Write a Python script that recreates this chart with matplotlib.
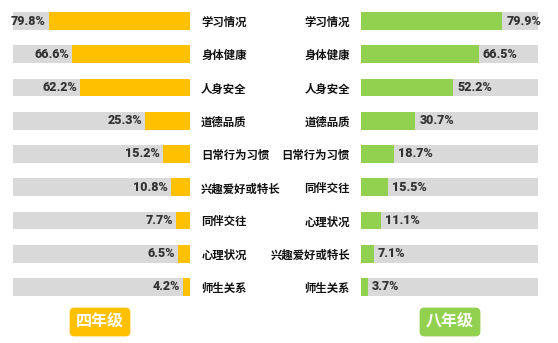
import matplotlib
matplotlib.use("Agg")
import matplotlib.pyplot as plt
from matplotlib.transforms import offset_copy

plt.rcParams['font.family'] = ['Noto Sans CJK SC', 'DejaVu Sans']

cats4 = ["学习情况", "身体健康", "人身安全", "道德品质", "日常行为习惯", "兴趣爱好或特长", "同伴交往", "心理状况", "师生关系"]
vals4 = [79.8, 66.6, 62.2, 25.3, 15.2, 10.8, 7.7, 6.5, 4.2]
cats8 = ["学习情况", "身体健康", "人身安全", "道德品质", "日常行为习惯", "同伴交往", "心理状况", "兴趣爱好或特长", "师生关系"]
vals8 = [79.9, 66.5, 52.2, 30.7, 18.7, 15.5, 11.1, 7.1, 3.7]
titles = ["四年级", "八年级"]

ORANGE = "#FFC000"
GREEN = "#92D050"
GRAY = "#D9D9D9"
TXT = "#111111"

W, H = 558, 343
fig = plt.figure(figsize=(W / 100, H / 100), dpi=100)
fig.patch.set_facecolor("white")

top_px, bot_px = 4.4, 303.6
def axrect(x0, x1):
    return [x0 / W, 1 - bot_px / H, (x1 - x0) / W, (bot_px - top_px) / H]

axL = fig.add_axes(axrect(13, 190))
axR = fig.add_axes(axrect(361, 538))

pctfont = dict(family=['Roboto', 'DejaVu Sans'], fontweight='black',
               fontsize=9, color="#333333")

for ax, cats, vals, col, side in [(axL, cats4, vals4, ORANGE, 'L'), (axR, cats8, vals8, GREEN, 'R')]:
    y = list(range(len(cats)))
    ax.barh(y, [100] * len(cats), height=0.54, color=GRAY, zorder=1)
    ax.barh(y, vals, height=0.54, color=col, zorder=2)
    ax.set_ylim(len(cats) - 0.5, -0.5)
    ax.set_yticks(y)
    ax.set_yticklabels(cats, fontsize=8.2, fontweight='black', color=TXT)
    ax.tick_params(axis='y', length=0)
    ax.set_xticks([])
    for s in ax.spines.values():
        s.set_visible(False)
    ax.set_facecolor("none")
    if side == 'L':
        ax.set_xlim(100, 0)
        ax.yaxis.tick_right()
        ax.tick_params(axis='y', pad=8)
        for yi, v in zip(y, vals):
            ax.text(v, yi, f"{v}%", ha='right', va='center', zorder=3,
                    transform=offset_copy(ax.transData, fig=fig, x=-3, y=0, units='dots'), **pctfont)
    else:
        ax.set_xlim(0, 100)
        ax.tick_params(axis='y', pad=8)
        for yi, v in zip(y, vals):
            ax.text(v, yi, f"{v}%", ha='left', va='center', zorder=3,
                    transform=offset_copy(ax.transData, fig=fig, x=4, y=0, units='dots'), **pctfont)

fig.text(100 / W, 1 - 322 / H, titles[0], ha='center', va='center', color='white',
         fontsize=11.5, fontweight='black',
         bbox=dict(boxstyle='round,pad=0.4,rounding_size=0.3', facecolor=ORANGE, edgecolor='none'))
fig.text(450 / W, 1 - 322 / H, titles[1], ha='center', va='center', color='white',
         fontsize=11.5, fontweight='black',
         bbox=dict(boxstyle='round,pad=0.4,rounding_size=0.3', facecolor=GREEN, edgecolor='none'))

fig.savefig("out.png", dpi=100, facecolor="white")
